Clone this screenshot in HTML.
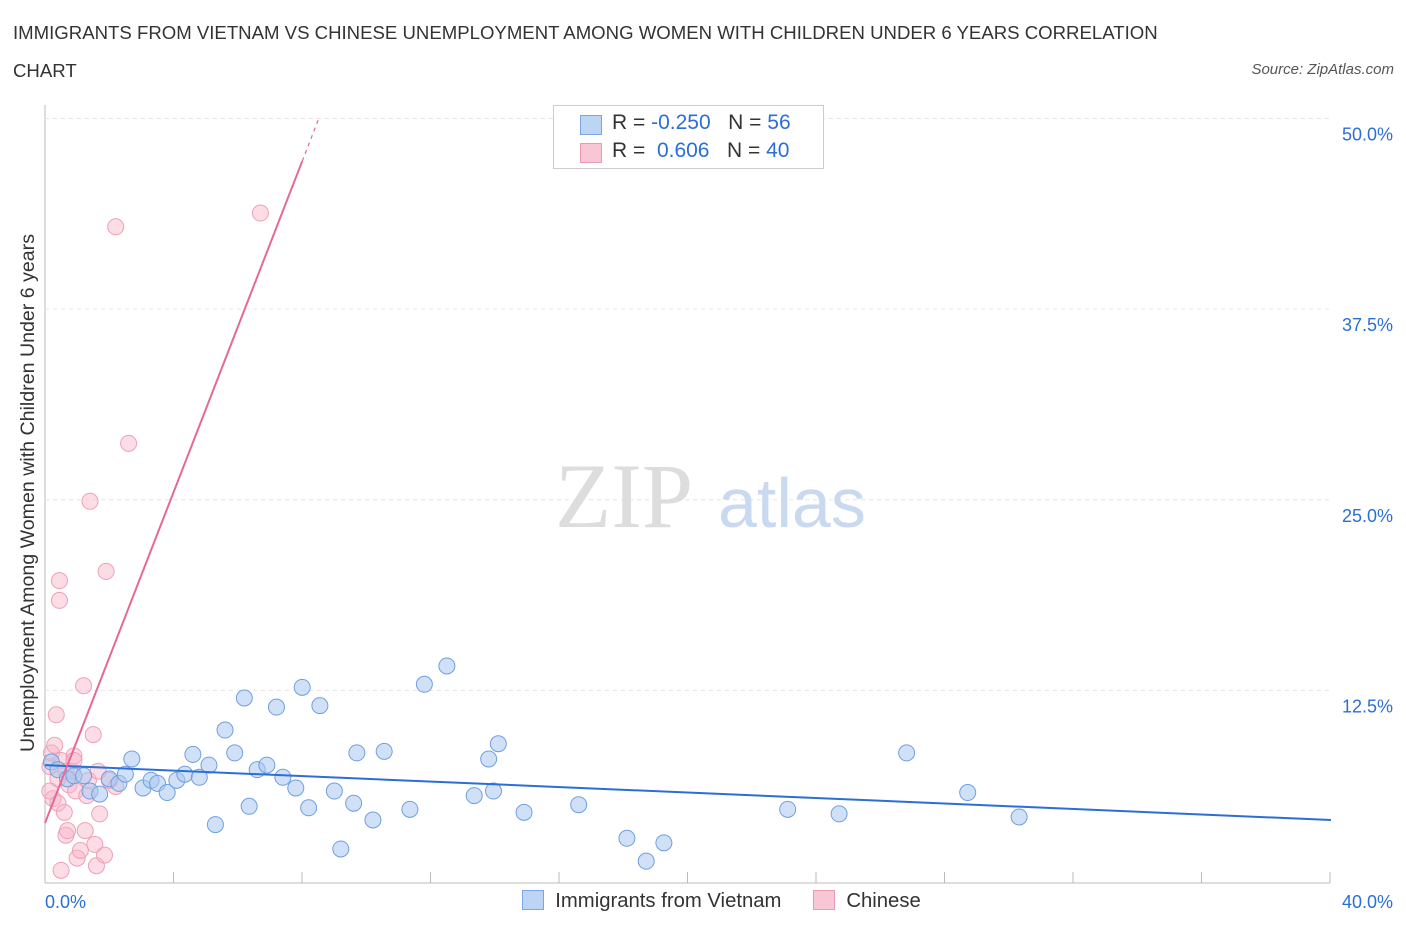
<!DOCTYPE html>
<html><head><meta charset="utf-8"><style>
body{margin:0;background:#fff;font-family:"Liberation Sans",sans-serif;}
#wrap{position:relative;width:1406px;height:930px;overflow:hidden;}
.t{position:absolute;white-space:nowrap;}
</style></head><body>
<div id="wrap">
<div class="t" style="left:13px;top:14px;font-size:18.6px;color:#333;line-height:38px;">IMMIGRANTS FROM VIETNAM VS CHINESE UNEMPLOYMENT AMONG WOMEN WITH CHILDREN UNDER 6 YEARS CORRELATION<br>CHART</div>
<div class="t" style="right:12px;top:61px;font-size:15px;color:#555;font-style:italic;">Source: ZipAtlas.com</div>
<svg id="svg" width="1406" height="930" style="position:absolute;left:0;top:0">
<g id="grid"></g>
<text x="555" y="527" font-family="Liberation Serif" font-size="92" fill="#ddd">ZIP</text>
<text x="718" y="527" font-family="Liberation Sans" font-size="70" fill="#c9daf0">atlas</text>
<g id="pts"></g><g id="lines"></g>
<text transform="translate(34,493) rotate(-90)" text-anchor="middle" font-size="19.6" fill="#333">Unemployment Among Women with Children Under 6 years</text>
</svg>
<div class="t" style="left:553px;top:105px;width:269px;height:62px;border:1px solid #ccc;background:#fff;font-size:21px;">
 <div style="position:absolute;left:26px;top:9px;width:20px;height:18px;background:#bcd5f5;border:1px solid #7aa7e3"></div>
 <div class="t" style="left:58px;top:5px;color:#333">R = <span style="color:#2b6fd6">-0.250</span>&nbsp;&nbsp;&nbsp;N = <span style="color:#2b6fd6">56</span></div>
 <div style="position:absolute;left:26px;top:37px;width:20px;height:18px;background:#f8c6d4;border:1px solid #e89ab0"></div>
 <div class="t" style="left:58px;top:33px;color:#333">R = &nbsp;<span style="color:#2b6fd6">0.606</span>&nbsp;&nbsp;&nbsp;N = <span style="color:#2b6fd6">40</span></div>
</div>
<div class="t" style="left:522px;top:890px;font-size:20.3px;color:#333;">
 <span style="display:inline-block;width:20px;height:18px;background:#bcd5f5;border:1px solid #7aa7e3;vertical-align:-3px"></span>&nbsp; Immigrants from Vietnam
 <span style="display:inline-block;width:20px;height:18px;background:#f8c6d4;border:1px solid #e89ab0;vertical-align:-3px;margin-left:26px"></span>&nbsp; Chinese
</div>
</div>
<script>
const yTicks=[12.5,25,37.5,50];
const yTickLabels=["12.5%","25.0%","37.5%","50.0%"];
const xTickLabels=["0.0%","40.0%"];
const vnX=[0.2,0.4,0.7,0.9,1.2,1.4,1.7,2.0,2.3,2.5,2.7,3.05,3.3,3.5,3.8,4.1,4.35,4.6,4.8,5.1,5.3,5.6,5.9,6.2,6.35,6.6,6.9,7.2,7.4,7.8,8.0,8.2,8.55,9.0,9.2,9.6,9.7,10.2,10.55,11.35,11.8,12.5,13.35,13.8,13.95,14.1,14.9,16.6,18.1,18.7,19.25,23.1,24.7,26.8,28.7,30.3];
const vnY=[7.8,7.3,6.7,6.9,6.9,5.9,5.7,6.7,6.4,7.0,8.0,6.1,6.6,6.4,5.8,6.6,7.0,8.3,6.8,7.6,3.7,9.9,8.4,12.0,4.9,7.3,7.6,11.4,6.8,6.1,12.7,4.8,11.5,5.9,2.1,5.1,8.4,4.0,8.5,4.7,12.9,14.1,5.6,8.0,5.9,9.0,4.5,5.0,2.8,1.3,2.5,4.7,4.4,8.4,5.8,4.2];
const cnX=[0.15,0.2,0.3,0.25,0.35,0.4,0.45,0.45,0.5,0.6,0.65,0.7,0.75,0.85,0.9,0.95,1.0,1.1,1.2,1.25,1.3,1.35,1.5,1.55,1.6,1.7,1.85,1.9,1.4,2.2,2.6,6.7,2.2,0.5,0.4,0.65,0.9,0.15,1.65,2.0];
const cnY=[7.5,8.4,8.9,5.4,10.9,5.1,18.4,19.7,0.7,4.5,3.0,3.3,6.3,7.2,8.2,5.9,1.5,2.0,12.8,3.3,5.6,6.6,9.6,2.4,1.0,4.4,1.7,20.3,24.9,42.9,28.7,43.8,6.2,7.9,6.7,7.2,7.9,5.9,7.2,6.6];
const vnFit=[7.6,4.0];
const cnFit=[3.8,47.2];
const X=v=>45+v*32.15, Y=v=>881-v*15.25;
const NS="http://www.w3.org/2000/svg";
function mk(tag,attrs,parent){const e=document.createElementNS(NS,tag);for(const k in attrs)e.setAttribute(k,attrs[k]);parent.appendChild(e);return e;}
const grid=document.getElementById('grid');
let a=mk('line',{x1:45,y1:105,x2:45,y2:883,stroke:'#bbb'},grid);

a=mk('line',{x1:45,y1:883,x2:1330,y2:883,stroke:'#bbb'},grid);

for(let i=1;i<=10;i++){const e=mk('line',{x1:45+i*128.5,y1:883,x2:45+i*128.5,y2:872,stroke:'#bbb'},grid);
}
yTicks.forEach((t,i)=>{const e=mk('line',{x1:45,y1:Y(t),x2:1330,y2:Y(t),stroke:'#e6e6e6','stroke-dasharray':'4,4'},grid);

const tx=mk('text',{x:1393,y:Y(t)+22,'text-anchor':'end','font-size':18,fill:'#2b6fd6'},grid);tx.textContent=yTickLabels[i];
});
[[45,'start'],[1393,'end']].forEach((p,i)=>{const tx=mk('text',{x:p[0],y:908,'text-anchor':p[1],'font-size':18,fill:'#2b6fd6'},grid);tx.textContent=xTickLabels[i];
});
const pts=document.getElementById('pts');
cnX.forEach((x,i)=>{const c=mk('circle',{cx:X(x),cy:Y(cnY[i]),r:8,fill:'rgba(248,180,200,0.45)',stroke:'#eea0b8','stroke-width':1},pts);
});
vnX.forEach((x,i)=>{const c=mk('circle',{cx:X(x),cy:Y(vnY[i]),r:8,fill:'rgba(170,200,240,0.55)',stroke:'#6f9fdf','stroke-width':1},pts);
});
const ln=document.getElementById('lines');
let l=mk('line',{x1:X(0),y1:Y(vnFit[0]),x2:X(40),y2:Y(vnFit[1]),stroke:'#2b6fd6','stroke-width':2},ln);

const slope=(cnFit[1]-cnFit[0])/8;
l=mk('line',{x1:X(0),y1:Y(cnFit[0]),x2:X(8),y2:Y(cnFit[1]),stroke:'#e46a94','stroke-width':2},ln);

l=mk('line',{x1:X(8),y1:Y(cnFit[1]),x2:X(8.5),y2:Y(cnFit[1]+slope*0.5),stroke:'#e46a94','stroke-width':1.2,'stroke-dasharray':'4,4'},ln);

</script>
</body></html>
